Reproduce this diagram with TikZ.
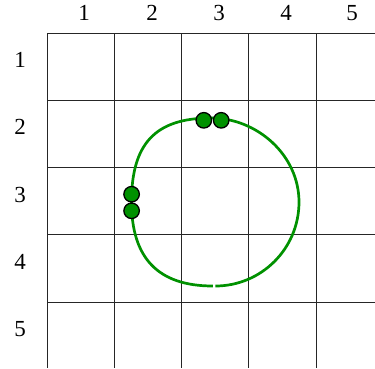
\documentclass[tikz,border=0pt]{standalone}
\usepackage{fontspec}
\setmainfont{Liberation Serif}
\definecolor{ringgreen}{RGB}{0,145,0}
\tikzset{
  gridline/.style={draw=black!85, line width=0.9pt},
  lbl/.style={font=\fontsize{23}{23}\selectfont, inner sep=0pt, anchor=center},
  ring/.style={draw=ringgreen, line width=2.7pt},
  bead/.style={circle, draw=black, line width=1.3pt, fill=ringgreen, minimum size=15.5pt, inner sep=0pt},
}
\begin{document}
\begin{tikzpicture}[x=1pt,y=-1pt]
\useasboundingbox (0,0) rectangle (375,368);
% grid
\foreach \xx in {47,114.3,181.6,248.9,316.2}
  \draw[gridline] (\xx,33) -- (\xx,368);
\foreach \yy in {33,100.3,167.6,234.9,302.2}
  \draw[gridline] (47,\yy) -- (375,\yy);
% column labels
\node[lbl] (c1) at (84,13) {1};
\node[lbl] (c2) at (152,13) {2};
\node[lbl] (c3) at (219,13) {3};
\node[lbl] (c4) at (286,13) {4};
\node[lbl] (c5) at (352,13) {5};
% row labels
\node[lbl] (r1) at (20,60) {1};
\node[lbl] (r2) at (20,127) {2};
\node[lbl] (r3) at (20,194.5) {3};
\node[lbl] (r4) at (20,262) {4};
\node[lbl] (r5) at (20,329) {5};
% ring
\coordinate (bs) at (215.4,286);
\coordinate (R) at (299,202);
\coordinate (T) at (211,118);
\coordinate (L) at (131.5,202);
\coordinate (be) at (212.8,286);
\draw[ring] (bs) .. controls (261,286) and (299,249) .. (R)
  .. controls (299,155) and (257,118) .. (T)
  .. controls (154,118) and (131.5,145) .. (L)
  .. controls (131.5,258) and (158,286) .. (be);
% beads
\node[bead] (b1) at (203.8,120.3) {};
\node[bead] (b2) at (221.2,120.3) {};
\node[bead] (b3) at (131.6,194.2) {};
\node[bead] (b4) at (131.6,210.8) {};
\end{tikzpicture}
\end{document}
